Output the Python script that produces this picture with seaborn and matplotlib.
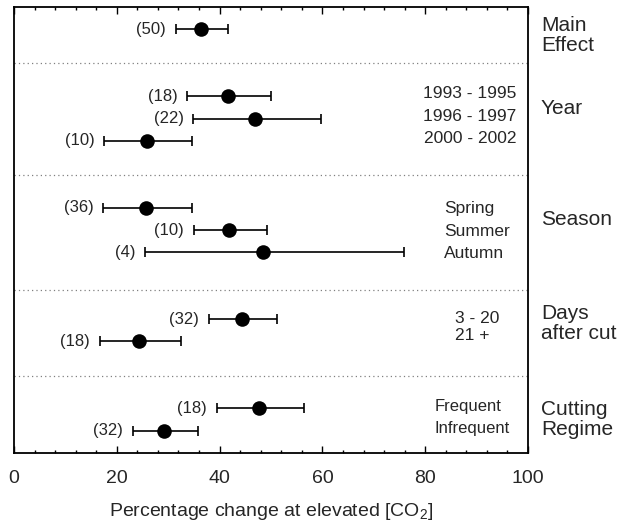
import numpy as np
import pandas as pd
import matplotlib
matplotlib.use('Agg')
import matplotlib.pyplot as plt
import seaborn as sns

sns.set_style('white')
plt.rcParams['font.family'] = ['Liberation Sans', 'DejaVu Sans']
plt.rcParams['mathtext.fontset'] = 'custom'
plt.rcParams['mathtext.rm'] = 'Liberation Sans'
plt.rcParams['mathtext.it'] = 'Liberation Sans'

# groups shown on the right, and the levels inside each group
groups = ['Main\nEffect', 'Year', 'Season', 'Days\nafter cut', 'Cutting\nRegime']
group_of = [0, 1, 1, 1, 2, 2, 2, 3, 3, 4, 4]
levels = ['', '1993 - 1995', '1996 - 1997', '2000 - 2002',
          'Spring', 'Summer', 'Autumn', '3 - 20', '21 +',
          'Frequent', 'Infrequent']
n_obs = [50, 18, 22, 10, 36, 10, 4, 32, 18, 18, 32]
mean = [36.4, 41.6, 46.8, 25.8, 25.7, 41.9, 48.5, 44.4, 24.4, 47.7, 29.2]
lower = [31.5, 33.7, 34.9, 17.6, 17.4, 35.0, 25.5, 37.9, 16.7, 39.4, 23.1]
upper = [41.7, 50.0, 59.8, 34.6, 34.6, 49.2, 75.9, 51.1, 32.4, 56.5, 35.7]

# layout: vertical slot for each row
row_pos = [1, 4, 5, 6, 9, 10, 11, 14, 15, 18, 19]
sep_pos = [2.5, 7.55, 12.7, 16.55]
group_pos = [1.27, 4.54, 9.55, 14.2, 18.5]

df = pd.DataFrame({'level': levels, 'n': n_obs, 'mean': mean,
                   'lower': lower, 'upper': upper, 'pos': row_pos,
                   'group': group_of})

fig = plt.figure(figsize=(6.31, 5.31), dpi=100)
ax = fig.add_axes([0.0222, 0.1469, 0.8146, 0.8399])

err = np.array([df['mean'] - df['lower'], df['upper'] - df['mean']])
ax.errorbar(df['mean'], df['pos'], xerr=err, fmt='none', ecolor='black',
            elinewidth=1.2, capsize=3.6, capthick=1.2, zorder=2)
sns.scatterplot(x='mean', y='pos', data=df, s=110, color='black',
                edgecolor='black', linewidth=0, zorder=3, ax=ax, legend=False)

for i, r in df.iterrows():
    ax.annotate('(%d)' % r['n'], xy=(r['lower'], r['pos']), xytext=(-7, 0),
                textcoords='offset points', ha='right', va='center', fontsize=12)

for y in sep_pos:
    ax.axhline(y, color='gray', lw=0.9, ls=(0, (1, 2.5)), zorder=1)

# level labels inside the box
for i, r in df.iterrows():
    g = r['group']
    if g == 1:
        ax.text(97.7, r['pos'] - 0.1, r['level'], ha='right', va='center', fontsize=12.5)
    elif g == 2:
        ax.text(83.7, r['pos'] + 0.05, r['level'], ha='left', va='center', fontsize=12.5)
    elif g == 3:
        yy = 13.95 if r['level'] == '3 - 20' else 14.75
        ax.text(85.8, yy, r['level'], ha='left', va='center', fontsize=12.5)
    elif g == 4:
        ax.text(81.9, r['pos'] - 0.08, r['level'], ha='left', va='center', fontsize=12)

for g, y in zip(groups, group_pos):
    ax.text(102.5, y, g, ha='left', va='center', fontsize=15, linespacing=1.05,
            clip_on=False)

ax.set_xlim(0, 100)
ax.set_ylim(20, 0)
ax.set_xticks(np.arange(0, 101, 20))
ax.set_xticks(np.arange(0, 101, 4), minor=True)
ax.set_yticks([])
ax.set_ylabel('')
ax.tick_params(axis='x', which='both', direction='in', top=True, bottom=True,
               labelsize=14, pad=12, color='black', width=1)
ax.tick_params(axis='x', which='major', length=5)
ax.tick_params(axis='x', which='minor', length=2.5)
ax.set_xlabel('Percentage change at elevated [CO$_2$]', fontsize=14, labelpad=10)
for s in ax.spines.values():
    s.set_color('black')
    s.set_linewidth(1.3)

fig.savefig('out.png', dpi=100)
